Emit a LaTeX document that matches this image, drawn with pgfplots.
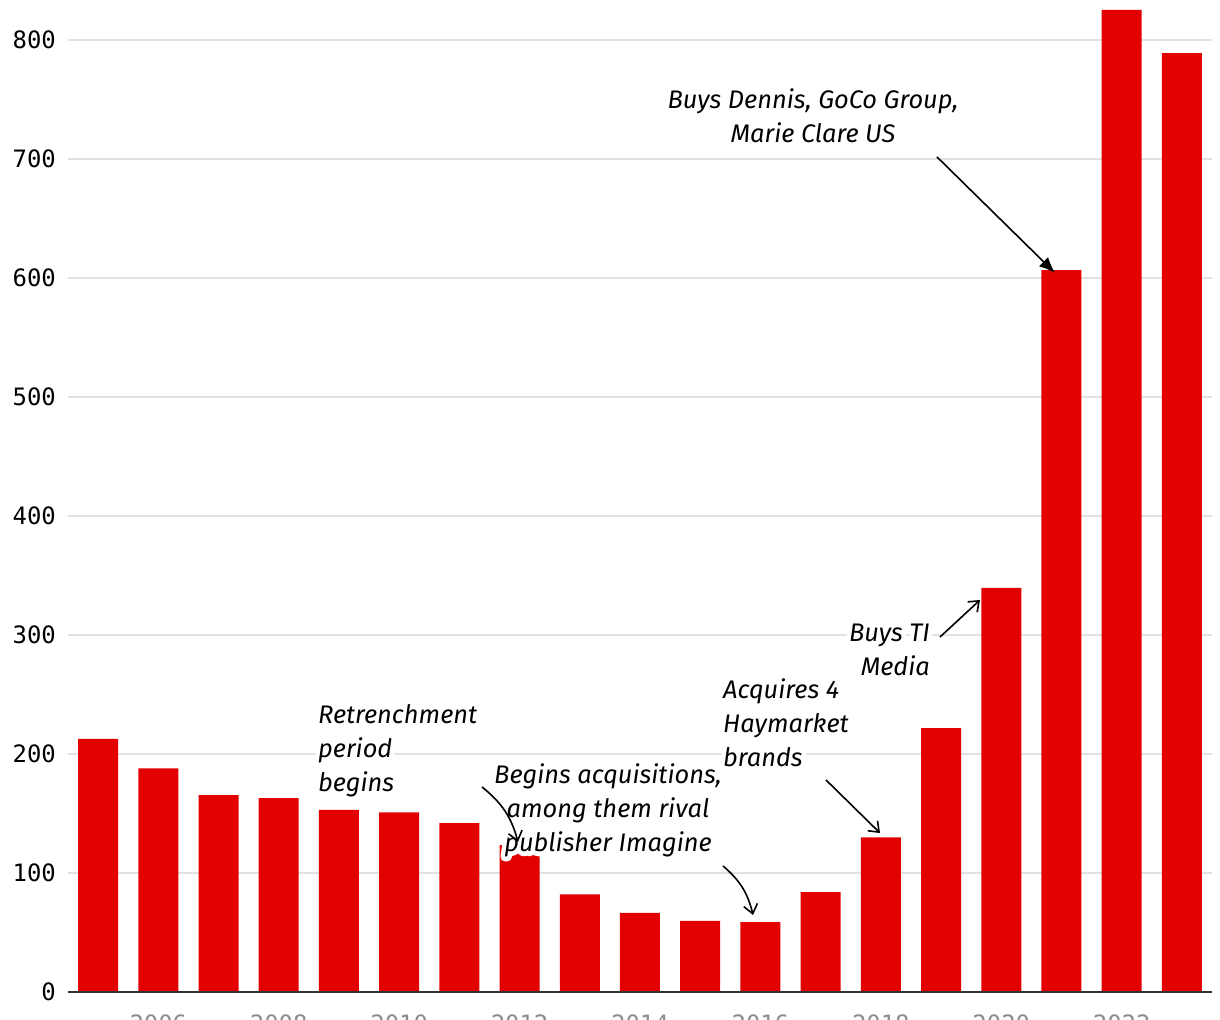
\documentclass[border=0pt]{standalone}
\usepackage{fontspec}
\setmainfont{Fira Sans}
\setmonofont{DejaVu Sans Mono}
\usepackage{pgfplots}
\usepackage{pgfplotstable}
\pgfplotsset{compat=1.18}
\usetikzlibrary{arrows.meta}
\definecolor{barred}{HTML}{E20000}
\definecolor{gridc}{HTML}{E2E2E2}
\definecolor{axisc}{HTML}{333333}

\newcommand\halo[1]{\special{pdf:literal direct 1 Tr 9 w 1 j 1 J}#1\special{pdf:literal direct 0 Tr}}

\pgfplotstableread{
year value
2005 212.6
2006 188.0
2007 165.5
2008 163.0
2009 153.0
2010 151.0
2011 142.0
2012 123.5
2013 82.0
2014 66.4
2015 59.7
2016 58.8
2017 84.0
2018 130.0
2019 221.8
2020 339.5
2021 606.7
2022 825.2
2023 789.0
}\rev

\newcommand\annot[4]{%
 \node[annot, anchor=#2, align=#3, text=white] at #1 {\halo{#4}};
 \node[annot, anchor=#2, align=#3, text=black] at #1 {#4};
}

\begin{document}
\begin{tikzpicture}[
 annot/.style={font=\fontsize{25.5}{34}\selectfont\itshape, inner sep=0pt},
 arr/.style={line width=1.6bp, -{Straight Barb[length=9bp,width=14bp]}}]
\begin{axis}[
 scale only axis, width=1144bp, height=992bp,
 xmin=2004.5, xmax=2023.5, ymin=0, ymax=833.6,
 axis line style={draw=none},
 major tick length=0pt, tick style={draw=none},
 ymajorgrids, grid style={gridc, line width=1.3bp},
 ytick={0,100,...,800}, xtick={2006,2008,...,2022},
 /pgf/number format/1000 sep={},
 /pgf/number format/assume math mode=true,
 tick label style={font=\ttfamily\fontsize{24}{24}\selectfont, text=black},
 yticklabel style={anchor=east, inner sep=0pt, xshift=-12bp},
 xticklabel style={anchor=north, inner sep=0pt, yshift=-23bp, text=black!45},
 clip=false,
]
\addplot[ybar, bar width=40bp, fill=barred, draw=none] table[x=year,y=value]{\rev};
\draw[axisc, line width=2bp] (rel axis cs:0,0) -- (rel axis cs:1,0);
\coordinate (O) at (rel axis cs:0,0);

\annot{(axis cs:2016.873,736.6)}{center}{center}{Buys Dennis, GoCo Group,\\Marie Clare US}
\annot{(axis cs:2018.817,287.8)}{east}{right}{Buys TI\\Media}
\annot{(axis cs:2015.379,226.1)}{west}{left}{Acquires 4\\Haymarket\\brands}
\annot{(axis cs:2008.652,202.5)}{west}{left}{Retrenchment\\period\\begins}
\annot{(axis cs:2013.469,152.5)}{center}{center}{Begins acquisitions,\\among them rival\\publisher Imagine}

\draw[line width=1.6bp, -{Latex[length=16bp,width=13bp]}] (axis cs:2018.933,701.7) -- (axis cs:2020.893,604.2);
\draw[arr] (axis cs:2018.983,298.3) -- (axis cs:2019.647,329.4);
\draw[arr] (axis cs:2017.089,178.2) -- (axis cs:2017.986,133.6);
\draw[arr] (axis cs:2011.376,172.3) to[bend left=18] (axis cs:2011.974,126.1);
\draw[arr] (axis cs:2015.379,105.9) to[bend left=18] (axis cs:2015.877,64.7);
\end{axis}
\pgfresetboundingbox
\path[use as bounding box] ([shift={(-68bp,-28bp)}]O) rectangle ([shift={(1152bp,992bp)}]O);
\end{tikzpicture}
\end{document}
